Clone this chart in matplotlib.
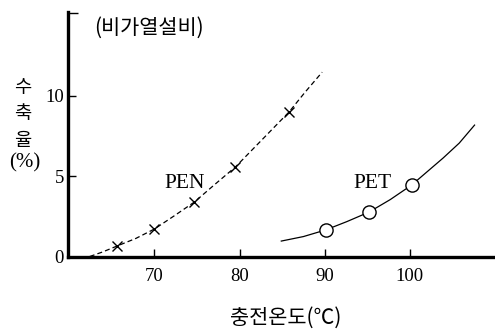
import matplotlib
matplotlib.use('Agg')
import matplotlib.pyplot as plt

pen_curve_x = [62.4, 63.9, 65.6, 67.8, 70.0, 72.3, 74.7, 77.0, 79.5, 82.6, 85.8, 87.7, 89.7]
pen_curve_y = [0.0, 0.28, 0.65, 1.12, 1.71, 2.52, 3.39, 4.44, 5.56, 7.24, 8.98, 10.22, 11.46]
pen_x = [65.6, 70.0, 74.7, 79.5, 85.8]
pen_y = [0.65, 1.71, 3.39, 5.56, 8.98]

# PET curve (solid) and its measured points
pet_curve_x = [84.9, 87.5, 90.1, 92.6, 95.2, 97.7, 100.2, 103.9, 105.8, 107.6]
pet_curve_y = [0.96, 1.24, 1.65, 2.17, 2.76, 3.54, 4.44, 6.12, 7.05, 8.17]
pet_x = [90.1, 95.2, 100.2]
pet_y = [1.65, 2.76, 4.44]

x_ticks = [70, 80, 90, 100]
y_ticks = [0, 5, 10]

serif = ['Liberation Serif', 'DejaVu Serif']
kor = ['Noto Sans CJK KR', 'DejaVu Sans']

fig = plt.figure(figsize=(4.95, 3.3), dpi=100)
ax = fig.add_axes([0.1374, 0.2227, 0.8626, 0.7409])

ax.plot(pen_curve_x, pen_curve_y, color='black', lw=0.9, linestyle=(0, (4, 2.5)))
ax.plot(pen_x, pen_y, linestyle='none', marker='x', markersize=7, mec='black', mew=1.0)
ax.plot(pet_curve_x, pet_curve_y, color='black', lw=0.9)
ax.plot(pet_x, pet_y, linestyle='none', marker='o', markersize=9.5,
        mfc='white', mec='black', mew=1.0)

ax.set_xlim(59.85, 110)
ax.set_ylim(0, 15.2)
ax.set_xticks(x_ticks)
ax.set_yticks(y_ticks)
ax.set_yticks([15.15], minor=True)
ax.set_xticklabels([str(t) for t in x_ticks], family=serif, fontsize=13.5)
ax.set_yticklabels([str(t) for t in y_ticks], family=serif, fontsize=13.5)
ax.tick_params(axis='both', direction='in', length=6, width=1)
ax.tick_params(axis='y', which='minor', direction='in', length=7.5, width=1)
ax.tick_params(axis='x', pad=8)
ax.tick_params(axis='y', pad=3)

for s in ['top', 'right']:
    ax.spines[s].set_visible(False)
for s in ['left', 'bottom']:
    ax.spines[s].set_linewidth(2.4)

ax.text(69.4, 14.25, '(비가열설비)', family=kor, fontsize=15, ha='center', va='center')
ax.text(73.6, 4.55, 'PEN', family=serif, fontsize=15.5, ha='center', va='center')
ax.text(95.6, 4.55, 'PET', family=serif, fontsize=15.5, ha='center', va='center')

# stacked y label
for txt, py in [('수', 88), ('축', 113), ('율', 140)]:
    fig.text(23 / 495, 1 - py / 330, txt, family=kor, fontsize=13.5, ha='center', va='center')
fig.text(25 / 495, 1 - 163 / 330, '(%)', family=serif, fontsize=15, ha='center', va='center')

fig.text(286 / 495, 1 - 318 / 330, '충전온도(℃)', family=kor, fontsize=15,
         ha='center', va='center')

fig.savefig('out.png', dpi=100)
